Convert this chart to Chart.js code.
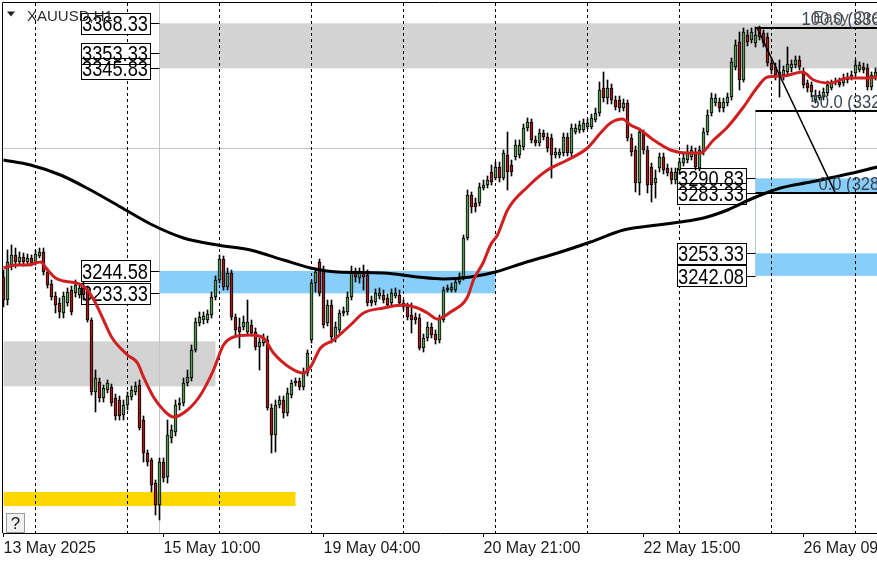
<!DOCTYPE html>
<html><head><meta charset="utf-8">
<script src="https://cdn.jsdelivr.net/npm/chart.js@4.4.1/dist/chart.umd.min.js"></script>
<style>html,body{margin:0;padding:0;background:#fff;overflow:hidden}canvas{display:block}</style>
</head><body>
<canvas id="c" width="877" height="562" style="width:877px;height:562px"></canvas>
<script>
// ---- H1 candles (bar index 0..218) ----
const openP=[3241.5,3230,3247.5,3252.5,3249,3251.5,3249,3251,3248.5,3252,
3254,3244,3238,3232,3228.5,3223.5,3228.5,3235,3233.5,3232.5,
3236,3235,3220,3184,3189,3181,3185,3186.5,3181,3180,
3172.5,3177.5,3181.5,3184,3187.5,3170,3153.5,3150,3138.5,3127.5,
3149,3141.5,3161,3164,3177.5,3178.5,3188.5,3191,3205,3218.5,
3220,3220,3222.5,3231.5,3240,3250.5,3236.5,3243.5,3221.5,3216.5,
3216.5,3214,3217.5,3214,3206.5,3208.5,3210,3176,3162.5,3177.5,
3180,3173.5,3182.5,3188.5,3189.5,3186.5,3193.5,3210,3238.5,3249,
3245,3218.5,3227.5,3211,3215,3223.5,3224,3231.5,3244,3241,
3244,3242.5,3230,3229,3232,3232.5,3231,3228.5,3232,3232.5,
3228.5,3226.5,3222.5,3221.5,3221,3206,3211,3216.5,3213,3210,
3220,3235,3235,3235,3239,3241.5,3261,3282.5,3278.5,3278.5,
3286,3287.5,3294,3291,3296.5,3291,3302.5,3297.5,3301.5,3302.5,
3306.5,3316,3319,3310,3308.5,3313.5,3311.5,3311,3302.5,3302.5,
3303.5,3311.5,3303.5,3314,3315,3315,3316.5,3316.5,3320,3323.5,
3336,3331,3336,3330,3330,3326,3328.5,3311,3305,3288.5,
3313.5,3305,3296.5,3288.5,3296,3301.5,3296,3294,3290,3295,
3298.5,3300,3301.5,3304,3296,3304,3314,3323.5,3328.5,3329,
3326,3328.5,3331.5,3346.5,3359,3340,3362.5,3360,3358.5,3366,
3363.5,3361.5,3348.5,3346.5,3344,3342.5,3344,3346,3347.5,3350,
3344,3338.5,3337.5,3330,3331,3331.5,3333.5,3336,3338.5,3339,
3338.5,3341.5,3341,3343.5,3345,3346.5,3346,3336.5,3341.5];
const highP=[3245,3255,3257.5,3256,3254,3253.5,3253,3252.5,3255,3256,
3256,3246,3240,3234,3231,3234,3236,3237,3240,3238,
3239,3237,3221,3195,3191,3187.5,3190,3188,3183,3182,
3180,3184,3187,3189,3190,3172,3155,3151,3140,3151,
3151,3170,3167.5,3180,3181,3191,3195,3207.5,3221,3224,
3224,3225,3234,3242,3252.5,3252,3246,3245,3223,3221,
3222,3230,3220,3216,3211,3213,3212,3178,3180,3182,
3182,3186,3190,3191,3191,3196,3205,3240,3246,3250.5,
3247,3230,3230,3219,3225,3226.5,3234,3247,3246,3246,
3247.5,3245,3232,3235.5,3236,3235,3233,3235.5,3236,3235,
3230,3228.5,3228.5,3223.5,3223,3213,3219,3218.5,3215,3222.5,
3236.5,3237.5,3238.5,3241,3243.5,3262.5,3285,3284,3281,3288.5,
3290,3292,3297.5,3299,3299,3305,3314,3300,3310,3310,
3318,3321,3320.5,3312,3315.5,3315,3313.5,3313,3306,3305.5,
3313.5,3313.5,3318,3318,3319.5,3320.5,3320.5,3323,3326,3339,
3344,3340,3338,3332,3332,3330.5,3330,3313,3307,3316,
3315,3307,3298.5,3295,3303.5,3303.5,3298,3296,3296,3301,
3303,3307.5,3307,3306,3307,3316,3325,3333.5,3333,3331,
3331,3333.5,3351,3360,3364,3366,3365,3366,3366.5,3367,
3365,3363.5,3351,3348.5,3350,3347,3356.5,3350,3352,3352,
3346,3340,3339,3335,3334.5,3336,3339.5,3340,3341,3341,
3343,3343.5,3344.5,3350,3349,3348.5,3348,3344,3346];
const lowP=[3226.5,3227.5,3245,3246,3247.5,3247,3248,3247,3247.5,3251,
3242.5,3236,3230,3223.5,3221,3221,3227,3222.5,3231.5,3231,
3230,3219,3182.5,3174,3179,3179,3183.5,3177,3170,3170,
3170,3175,3180,3182.5,3165,3149,3147,3134,3122.5,3120,
3139,3138.5,3158.5,3162,3175,3177,3187,3189.5,3204,3217,
3218,3218.5,3221,3230,3238.5,3235,3235,3220,3212.5,3206,
3215,3212.5,3212,3205,3195,3207,3175,3153.5,3154,3176,
3171,3172,3181,3187,3185,3185,3192,3208.5,3234,3232,
3216,3217,3208.5,3209,3213.5,3222,3222.5,3230,3239,3238.5,
3235,3227,3227,3227.5,3230.5,3228.5,3226,3227,3231,3227,
3225,3220,3213.5,3218,3205,3204,3209.5,3211,3208,3208.5,
3219,3234,3234,3234,3238,3240,3260,3273.5,3274,3277,
3285,3286,3287.5,3290,3289,3290,3285,3292,3300,3301,
3305,3314.5,3308.5,3307,3307,3310,3304,3291,3301,3301,
3302,3302,3302,3313,3313.5,3314,3315.5,3315.5,3319,3322,
3329,3328,3328,3325,3324,3324.5,3309.5,3302,3284,3282.5,
3303,3283.5,3279,3281,3294,3293,3292,3288,3288,3293,
3297,3298.5,3300,3295,3294.5,3302.5,3312.5,3322,3327,3324,
3324,3327,3330,3345,3335,3339,3357,3358.5,3356.5,3360,
3356.5,3347,3343,3340,3331.5,3340,3342.5,3344,3346,3345,
3336,3334,3331.5,3328.5,3330,3330,3332,3335,3337.5,3336.5,
3337,3338.5,3340,3342,3344,3343.5,3335,3335,3340];
const closeP=[3230,3249,3252.5,3249,3251.5,3249,3251,3248.5,3253,3254,
3244,3237.5,3231.5,3227.5,3224,3232,3234,3224,3237.5,3236,
3232.5,3220,3184,3191,3181,3186,3188.5,3178.5,3172,3172,
3177.5,3182,3185,3187,3166,3153.5,3149,3137.5,3127.5,3149,
3141,3162.5,3165,3177.5,3178.5,3188.5,3191.5,3205,3219,3221.5,
3222,3223,3231.5,3240,3250.5,3236.5,3243.5,3221.5,3215,3214,
3219,3219,3213.5,3206.5,3209,3211,3176,3162.5,3177.5,3180,
3173.5,3183.5,3188.5,3189.5,3186.5,3193.5,3203.5,3238.5,3244,3233.5,
3217.5,3227.5,3211.5,3216.5,3223.5,3224.5,3231.5,3243.5,3241.5,3243.5,
3241.5,3228.5,3228.5,3233.5,3233.5,3230,3227.5,3233.5,3233.5,3228.5,
3226.5,3221.5,3220,3220,3206,3211,3216.5,3212.5,3210,3221,
3235,3236,3236.5,3239,3241.5,3261,3282.5,3276.5,3276.5,3286.5,
3287.5,3290,3289,3296.5,3291,3303.5,3294,3294,3307.5,3307.5,
3316,3319,3310,3308.5,3313.5,3311.5,3306,3302.5,3304,3304,
3311.5,3303.5,3316,3316,3317.5,3318.5,3318.5,3321,3323.5,3335,
3331,3336,3330,3326.5,3326,3328.5,3311,3304,3288.5,3314,
3305,3287.5,3287.5,3291,3301.5,3295,3293.5,3290,3294,3299,
3301,3303.5,3305,3296.5,3305,3314,3322.5,3331,3331,3326,
3329,3331.5,3349,3357.5,3340,3364,3359,3364,3362.5,3361.5,
3358.5,3348.5,3345,3342.5,3341.5,3345,3348,3348,3350,3346.5,
3337.5,3336,3334,3332.5,3332.5,3334,3337.5,3338.5,3339,3337.5,
3341,3340,3342.5,3347.5,3347.5,3345,3336.5,3342.5,3344];

// ---- moving averages (bar index, price) ----
const redMaX=[0,3,6,9.25,11,13,15,19,21,23,25,27,31,33.5,35,37.5,40,42.5,46,49.25,
52.5,55,57.5,61.75,65,67.5,71.75,75,76.75,79.25,82.5,86.75,90,95,100,103.5,106,108.5,111.75,116,
117.5,120,121.75,123.5,126,131,136,141,146,149.25,151.75,154.75,156.75,159.25,162.5,166.75,171,174.25,177.5,181,
185,188.5,191,195,199.75,202.5,206.75,211,215,218.5];
const redMaY=[3246,3247.5,3247.5,3249,3245,3241,3239.5,3238,3235,3228.5,3220,3211.5,3202.5,3198.5,3191.5,3181.5,3175,3171.5,3175,3182.5,
3195,3207.5,3211.5,3212.5,3211,3203.5,3196,3193.5,3196.5,3206,3210,3217.5,3223.5,3226,3227.5,3226,3223.5,3220.5,3224,3231.5,
3240,3249,3257.5,3262.5,3275,3286.5,3295,3300,3306,3313.5,3318.5,3320.5,3317.5,3315,3310,3305,3303.5,3303.5,3310,3316.5,
3326.5,3336.5,3341.5,3342,3344,3340,3338.5,3341,3341,3341.5];
const blackMaX=[0,6.75,14.25,21.75,29.25,36.75,45,53.5,61.75,70,76.75,83.5,95,103.5,110,116.75,123,130,138.5,146.75,155,163.5,169.25,175,181,187.5,194.25,201.75,210,218.5];
const blackMaY=[3300,3297.5,3292.5,3285,3276.5,3268,3261,3257.5,3255,3250,3246,3244,3243.5,3241.5,3240.5,3241.5,3244,3248.5,3253.5,3259,3265,3267.5,3269,3271,3275,3281,3286,3289,3292.5,3296.5];

// ---- time axis ----
const tickBars=[0,40,80,120,160,200];
const tickLabels=['13 May 2025','15 May 10:00','19 May 04:00','20 May 21:00','22 May 15:00','26 May 09:00'];
const separatorBars=[8,31,54,77,100,123,146,169,192,213];

// ---- zones (price high, price low, from bar, to bar) ----
const zoneHigh=[3368.33,3209.33,3244.58,3290.83,3253.33,3134.0];
const zoneLow=[3345.83,3186.83,3233.33,3283.33,3242.08,3127.0];
const zoneFrom=[39,0,39,188,188,0];
const zoneTo=[999,53,123,999,999,73];
const zoneKind=['grey','grey','blue','blue','blue','yellow'];

// ---- price labels ----
const leftLabelPrices=[3368.33,3353.33,3345.83,3244.58,3233.33];
const leftLabelBar=39;
const rightLabelPrices=[3290.83,3283.33,3253.33,3242.08];
const rightLabelBar=188;

// ---- Fibonacci ----
const fibLevels=['100.0','50.0','0.0'];
const fibPrices=[3365.83,3324.58,3283.33];
const fibStartBar=188;
const fibTrendBars=[188.3,208];
const fibTrendPrices=[3366.5,3283.33];

// ---- reference lines ----
const hLinePrice=3306.2;
const vLineBar=39;
const vSegBar=188;
const vSegPrices=[3324.58,3242.08];

const GREEN='#5a965a', RED='#9e1c1c';
const FONT='"Liberation Sans", Arial, sans-serif';

function condText(ctx,txt,x,y,size,sx,align,color){
  ctx.save();
  ctx.translate(x,y);
  ctx.scale(sx,1);
  ctx.font=size+'px '+FONT;
  ctx.textAlign=align;
  ctx.textBaseline='alphabetic';
  ctx.fillStyle=color;
  ctx.fillText(txt,0,0);
  ctx.restore();
}

const overlay={
  id:'overlay',
  beforeDatasetsDraw(chart){
    const {ctx,chartArea:a,scales:{x,y}}=chart;
    ctx.save();
    ctx.beginPath();ctx.rect(a.left,a.top,a.right-a.left,a.bottom-a.top);ctx.clip();
    const zc={grey:'#d3d3d3',blue:'#87cefa',yellow:'#ffd700'};
    for(let k=0;k<zoneHigh.length;k++){
      const x1=x.getPixelForValue(zoneFrom[k]);
      const x2=Math.min(x.getPixelForValue(zoneTo[k]),a.right);
      const y1=y.getPixelForValue(zoneHigh[k]),y2=y.getPixelForValue(zoneLow[k]);
      ctx.fillStyle=zc[zoneKind[k]];
      ctx.fillRect(x1,y1,x2-x1,y2-y1);
    }
    // grey reference lines
    ctx.lineWidth=1;
    ctx.strokeStyle='#c4c4c4';
    const hy=Math.round(y.getPixelForValue(hLinePrice))+0.5;
    ctx.beginPath();ctx.moveTo(a.left,hy);ctx.lineTo(a.right,hy);ctx.stroke();
    const vx=Math.floor(x.getPixelForValue(vLineBar))+0.5;
    ctx.beginPath();ctx.moveTo(vx,a.top);ctx.lineTo(vx,a.bottom);ctx.stroke();
    ctx.strokeStyle='#b4c8dc';
    const sx=Math.floor(x.getPixelForValue(vSegBar))+0.5;
    ctx.beginPath();ctx.moveTo(sx,y.getPixelForValue(vSegPrices[0]));ctx.lineTo(sx,y.getPixelForValue(vSegPrices[1]));ctx.stroke();
    // day separators
    ctx.strokeStyle='#000';
    ctx.setLineDash([3,3]);
    separatorBars.forEach(b=>{
      const px=Math.floor(x.getPixelForValue(b))+0.5;
      ctx.beginPath();ctx.moveTo(px,a.top);ctx.lineTo(px,a.bottom);ctx.stroke();
    });
    ctx.setLineDash([]);
    // price label boxes
    const boxes=[];
    leftLabelPrices.forEach(p=>boxes.push({p,ax:x.getPixelForValue(leftLabelBar)}));
    rightLabelPrices.forEach(p=>boxes.push({p,ax:x.getPixelForValue(rightLabelBar)}));
    const W=69,H=21,GAP=9.5;
    boxes.forEach(b=>{
      const py=y.getPixelForValue(b.p);
      ctx.fillStyle='#fff';
      ctx.fillRect(b.ax-GAP-W,py-H/2,W,H);
    });
    ctx.strokeStyle='#000';ctx.lineWidth=1;
    boxes.forEach(b=>{
      const py=y.getPixelForValue(b.p);
      const rx=Math.round(b.ax-GAP)+0.5, ty=Math.round(py-H/2)+0.5;
      ctx.strokeRect(rx-W,ty,W,H);
      const ly=Math.round(py)+0.5;
      ctx.beginPath();ctx.moveTo(rx,ly);ctx.lineTo(b.ax,ly);ctx.stroke();
    });
    boxes.forEach(b=>{
      const py=y.getPixelForValue(b.p);
      condText(ctx,b.p.toFixed(2),b.ax-GAP-2,py+8,22,0.83,'right','#000');
    });
    ctx.restore();
  },
  afterDatasetsDraw(chart){
    const {ctx,chartArea:a,scales:{x,y}}=chart;
    ctx.save();
    ctx.beginPath();ctx.rect(a.left,a.top,a.right-a.left,a.bottom-a.top);ctx.clip();
    // fib levels
    ctx.strokeStyle='#000';ctx.lineWidth=2;
    const fx=x.getPixelForValue(fibStartBar);
    const offs=[46,55,63];
    fibPrices.forEach((p,k)=>{
      const py=Math.round(y.getPixelForValue(p));
      ctx.beginPath();ctx.moveTo(fx,py);ctx.lineTo(a.right,py);ctx.stroke();
      condText(ctx,fibLevels[k]+' ('+p.toFixed(2)+')',fx+offs[k],py-3,18,0.92,'left','#3a4252');
    });
    ctx.lineWidth=1.5;
    ctx.beginPath();
    ctx.moveTo(x.getPixelForValue(fibTrendBars[0]),y.getPixelForValue(fibTrendPrices[0]));
    ctx.lineTo(x.getPixelForValue(fibTrendBars[1]),y.getPixelForValue(fibTrendPrices[1]));
    ctx.stroke();
    condText(ctx,'Easy Order',813,23,17,0.95,'left','#555');
    ctx.restore();
    // title
    ctx.save();
    ctx.fillStyle='#222';
    ctx.beginPath();ctx.moveTo(7,11.5);ctx.lineTo(15,11.5);ctx.lineTo(11,16.5);ctx.closePath();ctx.fill();
    ctx.font='15px '+FONT;ctx.textBaseline='alphabetic';ctx.textAlign='left';
    ctx.fillStyle='#2b2b2b';
    ctx.fillText('XAUUSD,H1',27,21);
    // ? button
    ctx.fillStyle='#f0f0f0';ctx.fillRect(6,513,19,20);
    ctx.strokeStyle='#9a9a9a';ctx.lineWidth=1;ctx.strokeRect(6.5,513.5,18,19);
    ctx.fillStyle='#222';ctx.font='17px '+FONT;ctx.textAlign='center';
    ctx.fillText('?',15.5,529);
    // frame
    ctx.strokeStyle='#000';ctx.lineWidth=1;
    ctx.beginPath();ctx.moveTo(2.5,a.bottom);ctx.lineTo(2.5,2.5);ctx.lineTo(a.right,2.5);ctx.stroke();
    ctx.restore();
  }
};

const idx=openP.map((_,i)=>i);
new Chart(document.getElementById('c'),{
  type:'bar',
  data:{datasets:[
    {type:'line',label:'MA fast',data:redMaX.map((v,k)=>({x:v,y:redMaY[k]})),borderColor:'#cf1f20',borderWidth:3,pointRadius:0,cubicInterpolationMode:'monotone',order:0},
    {type:'line',label:'MA slow',data:blackMaX.map((v,k)=>({x:v,y:blackMaY[k]})),borderColor:'#000',borderWidth:3,pointRadius:0,cubicInterpolationMode:'monotone',order:0},
    {type:'bar',label:'body',data:idx.map(i=>({x:i,y:[openP[i],closeP[i]]})),
      backgroundColor:idx.map(i=>closeP[i]>=openP[i]?GREEN:RED),borderColor:'#000',borderWidth:1,borderSkipped:false,
      barThickness:3,grouped:false,order:1},
    {type:'bar',label:'wick',data:idx.map(i=>({x:i,y:[lowP[i],highP[i]]})),backgroundColor:'#000',borderWidth:0,
      barThickness:1,grouped:false,order:2}
  ]},
  options:{
    responsive:false,animation:false,devicePixelRatio:1,
    layout:{padding:{left:3,top:3,right:0,bottom:0}},
    plugins:{legend:{display:false},tooltip:{enabled:false}},
    scales:{
      x:{type:'linear',min:-0.125,max:218.375,offset:false,
        afterBuildTicks:s=>{s.ticks=tickBars.map(v=>({value:v}));},
        afterFit:s=>{s.height=29;s.paddingLeft=0;s.paddingRight=0;},
        grid:{offset:false,drawOnChartArea:false,drawTicks:true,tickLength:4,color:'#000',lineWidth:1},
        border:{display:true,color:'#000',width:1},
        ticks:{autoSkip:false,maxRotation:0,minRotation:0,align:'start',padding:2,color:'#1a1a1a',
          font:{family:FONT,size:16},callback:(v,i)=>tickLabels[i]}
      },
      y:{display:false,min:3113.5,max:3378.5}
    }
  },
  plugins:[overlay]
});
</script>
</body></html>
